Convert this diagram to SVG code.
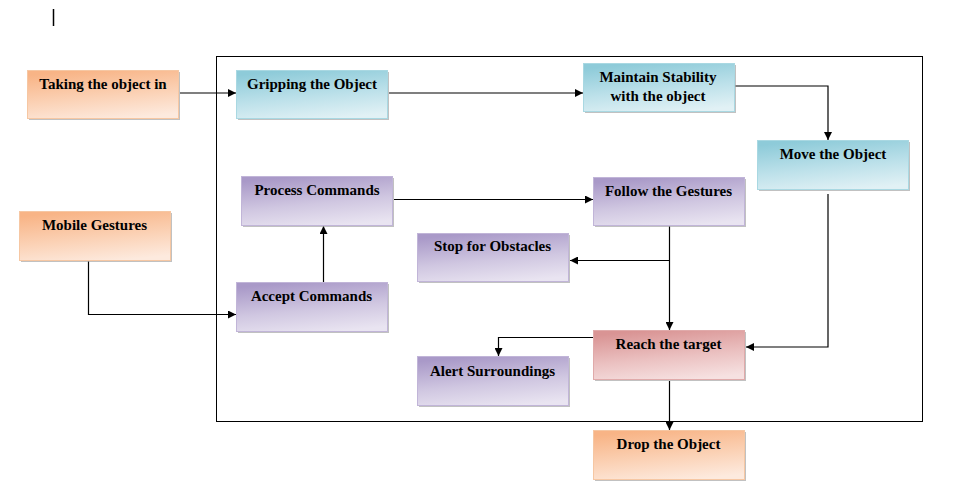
<svg xmlns="http://www.w3.org/2000/svg" width="979" height="486" viewBox="0 0 979 486">
<defs>
<linearGradient id="gOrange" x1="0.35" y1="0" x2="0.65" y2="1">
<stop offset="0" stop-color="#f8b486"/><stop offset="0.55" stop-color="#fbd2b6"/><stop offset="1" stop-color="#fdeade"/>
</linearGradient>
<linearGradient id="gBlue" x1="0.35" y1="0" x2="0.65" y2="1">
<stop offset="0" stop-color="#8ecbd9"/><stop offset="0.55" stop-color="#bde1ea"/><stop offset="1" stop-color="#e1f1f5"/>
</linearGradient>
<linearGradient id="gPurple" x1="0.35" y1="0" x2="0.65" y2="1">
<stop offset="0" stop-color="#a999c8"/><stop offset="0.55" stop-color="#d0c7e1"/><stop offset="1" stop-color="#e9e4f1"/>
</linearGradient>
<linearGradient id="gRed" x1="0.35" y1="0" x2="0.65" y2="1">
<stop offset="0" stop-color="#d99494"/><stop offset="0.55" stop-color="#ebc1c1"/><stop offset="1" stop-color="#f6e1e1"/>
</linearGradient>
<marker id="arr" viewBox="0 0 10 10" refX="10" refY="5" markerWidth="8" markerHeight="8" markerUnits="userSpaceOnUse" orient="auto">
<path d="M0,0 L10,5 L0,10 Z" fill="#000"/>
</marker>
<style>
.shadow{fill:#a6a6a6;opacity:0.7}
.box{stroke-width:1}
.orange{fill:url(#gOrange);stroke:#f6c7a3}
.blue{fill:url(#gBlue);stroke:#a9d8e2}
.purple{fill:url(#gPurple);stroke:#c1b5d8}
.red{fill:url(#gRed);stroke:#e0aaaa}
.lbl{font-family:'Liberation Serif','Times New Roman',serif;font-weight:700;font-size:15px;fill:#000;text-anchor:middle}
.con{fill:none;stroke:#000;stroke-width:1.2}
</style>
</defs>
<rect width="979" height="486" fill="#fff"/>
<line x1="53.5" y1="9" x2="53.5" y2="26" stroke="#000" stroke-width="1.5"/>
<rect id="frame" x="216.5" y="56.5" width="706" height="365" fill="none" stroke="#000" stroke-width="1"/>

<g id="connectors">
<path class="con" d="M180,93 L236,93" marker-end="url(#arr)"/>
<path class="con" d="M389,93 L583,93" marker-end="url(#arr)"/>
<path class="con" d="M735,86 L828,86 L828,140" marker-end="url(#arr)"/>
<path class="con" d="M828,194 L828,347 L746,347" marker-end="url(#arr)"/>
<path class="con" d="M394,199.5 L593,199.5" marker-end="url(#arr)"/>
<path class="con" d="M669.5,226 L669.5,330" marker-end="url(#arr)"/>
<path class="con" d="M669.5,260.5 L570,260.5" marker-end="url(#arr)"/>
<path class="con" d="M593,337.5 L498.5,337.5 L498.5,356" marker-end="url(#arr)"/>
<path class="con" d="M669.5,381 L669.5,430" marker-end="url(#arr)"/>
<path class="con" d="M88.5,260 L88.5,314.5 L236,314.5" marker-end="url(#arr)"/>
<path class="con" d="M323.5,282 L323.5,226" marker-end="url(#arr)"/>
</g>

<g id="n-taking">
<rect class="shadow" x="29" y="72" width="151" height="48"/>
<rect class="box orange" x="27.5" y="70.5" width="151" height="48"/>
<text class="lbl" x="103" y="89">Taking the object in</text>
</g>
<g id="n-gripping">
<rect class="shadow" x="238" y="72" width="151" height="48"/>
<rect class="box blue" x="236.5" y="70.5" width="151" height="48"/>
<text class="lbl" x="312" y="89">Gripping the Object</text>
</g>
<g id="n-maintain">
<rect class="shadow" x="585" y="65" width="151" height="48"/>
<rect class="box blue" x="583.5" y="63.5" width="151" height="48"/>
<text class="lbl" x="658" y="82">Maintain Stability</text>
<text class="lbl" x="658" y="100.5">with the object</text>
</g>
<g id="n-move">
<rect class="shadow" x="759" y="142" width="151" height="49"/>
<rect class="box blue" x="757.5" y="140.5" width="151" height="49"/>
<text class="lbl" x="833" y="159">Move the Object</text>
</g>
<g id="n-process">
<rect class="shadow" x="243" y="178" width="151" height="49"/>
<rect class="box purple" x="241.5" y="176.5" width="151" height="49"/>
<text class="lbl" x="317" y="194.5">Process Commands</text>
</g>
<g id="n-follow">
<rect class="shadow" x="595" y="179" width="151" height="48"/>
<rect class="box purple" x="593.5" y="177.5" width="151" height="48"/>
<text class="lbl" x="668.5" y="195.5">Follow the Gestures</text>
</g>
<g id="n-stop">
<rect class="shadow" x="419" y="235" width="151" height="48"/>
<rect class="box purple" x="417.5" y="233.5" width="151" height="48"/>
<text class="lbl" x="492.5" y="251">Stop for Obstacles</text>
</g>
<g id="n-reach">
<rect class="shadow" x="595" y="332" width="151" height="49"/>
<rect class="box red" x="593.5" y="330.5" width="151" height="49"/>
<text class="lbl" x="668.5" y="349">Reach the target</text>
</g>
<g id="n-alert">
<rect class="shadow" x="419" y="358" width="151" height="49"/>
<rect class="box purple" x="417.5" y="356.5" width="151" height="49"/>
<text class="lbl" x="492.5" y="375.5">Alert Surroundings</text>
</g>
<g id="n-drop">
<rect class="shadow" x="595" y="432" width="151" height="49"/>
<rect class="box orange" x="593.5" y="430.5" width="151" height="49"/>
<text class="lbl" x="668.5" y="448.5">Drop the Object</text>
</g>
<g id="n-mobile">
<rect class="shadow" x="21" y="213" width="151" height="49"/>
<rect class="box orange" x="19.5" y="211.5" width="151" height="49"/>
<text class="lbl" x="94.5" y="229.5">Mobile Gestures</text>
</g>
<g id="n-accept">
<rect class="shadow" x="238" y="284" width="151" height="49"/>
<rect class="box purple" x="236.5" y="282.5" width="151" height="49"/>
<text class="lbl" x="311.5" y="300.5">Accept Commands</text>
</g>
</svg>
